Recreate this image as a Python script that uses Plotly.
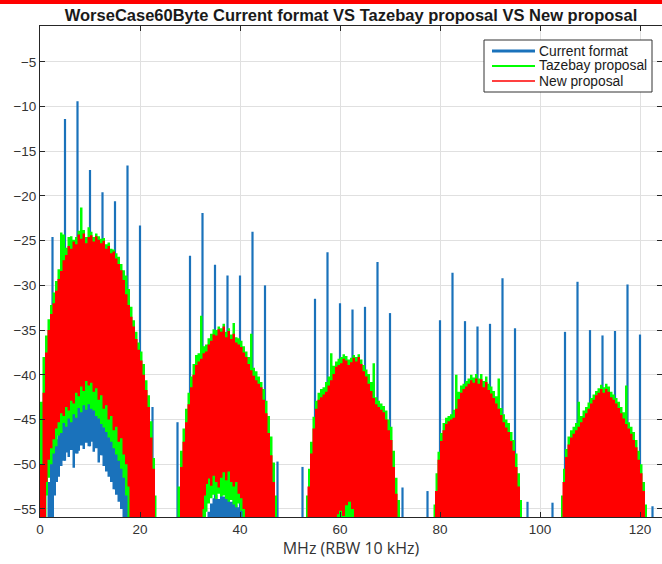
import plotly.graph_objects as go

FLOOR = -58.0

# ---- blue spikes (current format): position, peak and the level where the line returns to
spike_x = [2.5, 5, 7.5, 10, 12.5, 15, 17.5, 20, 22.5,
           27.5, 30, 32.5, 35, 37.5, 40, 42.5, 45, 47.5,
           52.5, 55, 57.5, 60, 62.5, 65, 67.5, 70, 72.5,
           77.5, 80, 82.5, 85, 87.5, 90, 92.5, 95, 97.5,
           102.5, 105, 107.5, 110, 112.5, 115, 117.5, 120, 122.5]
spike_top = [-24.6, -11.4, -9.4, -17.1, -19.6, -20.6, -16.6, -23.3, -43.6,
             -45.3, -26.7, -21.9, -27.7, -28.9, -28.9, -24.0, -30.0, -49.7,
             -50.3, -31.5, -26.3, -32.0, -32.7, -32.4, -27.4, -33.1, -52.6,
             -53.0, -33.9, -28.6, -34.0, -34.6, -34.3, -29.2, -34.8, -54.2,
             -54.3, -35.2, -29.6, -35.0, -35.6, -35.1, -29.9, -35.5, -54.7]
spike_low = [FLOOR, -49.6, -48.8, -48.0, -49.0, -52.8, FLOOR, FLOOR, FLOOR,
             FLOOR, FLOOR, FLOOR, FLOOR, FLOOR, FLOOR, FLOOR, FLOOR, FLOOR,
             FLOOR, FLOOR, FLOOR, FLOOR, FLOOR, FLOOR, FLOOR, FLOOR, FLOOR,
             FLOOR, FLOOR, FLOOR, FLOOR, FLOOR, FLOOR, FLOOR, FLOOR, FLOOR,
             FLOOR, FLOOR, FLOOR, FLOOR, FLOOR, FLOOR, FLOOR, FLOOR, FLOOR]

# ---- band 1 (0-23 MHz)
r1_x = [0, 0.5, 1, 1.5, 2, 2.5, 3, 3.5, 4, 4.5, 5, 5.5, 6, 6.5, 7, 7.5, 8, 8.5, 9, 9.5,
        10, 10.5, 11, 11.5, 12, 12.5, 13, 13.5, 14, 14.5, 15, 15.5, 16, 16.5, 17, 17.5,
        18, 18.5, 19, 19.5, 20, 20.5, 21, 21.5, 22, 22.5, 23]
r1_y = [-50, -42, -37.5, -35, -33.2, -32, -30.6, -29.3, -28.4, -27.2, -26.6, -25.6, -25.9,
        -25.1, -25.4, -24.3, -24.8, -24.2, -25.3, -24.6, -24.4, -25.1, -24.5, -24.9, -25.3,
        -25.0, -25.9, -25.6, -26.4, -26.2, -27.0, -27.6, -28.3, -29.4, -31.0, -32.2, -33.5,
        -34.6, -36.0, -37.2, -38.4, -40.0, -41.7, -43.6, -47.0, -50.5, FLOOR]
g1_x = [0, 0.5, 1, 1.5, 2, 2.5, 3, 3.5, 4, 4.5, 5, 5.5, 6, 6.5, 7, 7.5, 8, 8.5, 9, 9.5,
        10, 10.5, 11, 11.5, 12, 12.5, 13, 13.5, 14, 14.5, 15, 15.5, 16, 16.5, 17, 17.5,
        18, 18.5, 19, 19.5, 20, 20.5, 21, 21.5, 22, 22.5, 23, 23.3]
g1_y = [-43, -38, -35.6, -33.8, -32.2, -30.8, -29.5, -28.2, -24.1, -24.3, -25.8, -24.6,
        -24.5, -24.9, -24.6, -23.9, -21.3, -23.8, -24.6, -23.5, -24.0, -24.6, -24.2, -24.5,
        -24.8, -24.7, -25.4, -25.2, -25.9, -26.0, -26.4, -26.8, -27.6, -28.3, -28.9, -30.4,
        -32.4, -33.9, -35.2, -36.4, -37.4, -38.8, -40.6, -42.3, -45.2, -49.3, -53.5, FLOOR]
# inner edges of band 1: red -> green, green -> blue, blue -> white
r1in_x = [1.2, 1.5, 2, 2.5, 3, 3.5, 4, 4.5, 5, 5.5, 6, 6.5, 7, 7.5, 8, 8.5, 9, 9.5, 10,
          10.5, 11, 11.5, 12, 12.5, 13, 13.5, 14, 14.5, 15, 15.5, 16, 16.5, 17, 17.5, 17.9, 18.2]
r1in_y = [FLOOR, -52, -49.5, -48.2, -47.2, -46.0, -45.3, -44.3, -44.6, -43.6, -44.0, -42.9,
          -43.2, -42.0, -42.4, -41.3, -41.8, -40.7, -41.2, -40.9, -41.9, -41.5, -42.8, -42.3,
          -43.8, -43.4, -45.0, -44.6, -46.2, -45.8, -47.5, -47.1, -48.9, -50.0, -52.5, FLOOR]
g1in_x = [1.3, 1.6, 2, 2.5, 3, 3.5, 4, 4.5, 5, 5.5, 6, 6.5, 7, 7.5, 8, 8.5, 9, 9.5, 10,
          10.5, 11, 11.5, 12, 12.5, 13, 13.5, 14, 14.5, 15, 15.5, 16, 16.5, 17, 17.5, 17.9]
g1in_y = [FLOOR, -53.5, -51.5, -50.0, -48.8, -48.0, -46.8, -46.5, -45.4, -45.8, -44.9,
          -45.3, -44.4, -44.8, -43.7, -44.2, -43.4, -43.9, -43.3, -43.8, -44.0, -44.6, -44.9,
          -45.5, -45.9, -46.4, -47.0, -47.5, -48.2, -48.9, -49.6, -50.5, -51.5, -53.5, FLOOR]
b1in_x = [2.8, 3.2, 3.6, 4, 4.5, 5, 5.5, 6, 6.5, 7, 7.5, 8, 8.5, 9, 9.5, 10, 10.5, 11, 11.5,
          12, 12.5, 13, 13.5, 14, 14.5, 15, 15.5, 16, 16.5, 16.8]
b1in_y = [FLOOR, -53.5, -52.0, -51.4, -50.2, -49.6, -48.7, -49.2, -48.4, -50.4, -48.8, -48.5,
          -47.9, -48.3, -47.6, -48.0, -47.5, -48.6, -48.2, -49.8, -49.0, -50.2, -50.8, -51.4,
          -52.0, -52.8, -53.4, -54.2, -55.0, FLOOR]

# ---- band 2 (27-47 MHz)
r2_x = [27.5, 28, 28.5, 29, 29.5, 30, 30.5, 31, 31.5, 32, 32.5, 33, 33.5, 34, 34.5, 35,
        35.5, 36, 36.5, 37, 37.5, 38, 38.5, 39, 39.5, 40, 40.5, 41, 41.5, 42, 42.5, 43,
        43.5, 44, 44.5, 45, 45.5, 46, 46.5, 47]
r2_y = [FLOOR, -50.3, -47.5, -45.3, -43.3, -41.4, -40.0, -38.9, -38.5, -38.2, -37.6, -37.4,
        -36.6, -36.2, -35.5, -35.6, -34.9, -35.2, -34.6, -35.8, -35.1, -36.0, -35.4, -36.4,
        -36.6, -36.9, -37.5, -38.0, -38.8, -39.5, -40.1, -40.6, -41.0, -41.4, -42.8, -44.3,
        -46.5, -49.0, -52.0, FLOOR]
g2_x = [27, 27.5, 28, 28.5, 29, 29.5, 30, 30.5, 31, 31.5, 32, 32.5, 33, 33.5, 34, 34.5, 35,
        35.5, 36, 36.5, 37, 37.5, 38, 38.5, 39, 39.5, 40, 40.5, 41, 41.5, 42, 42.5, 43,
        43.5, 44, 44.5, 45, 45.5, 46, 46.5, 47, 47.4]
g2_y = [FLOOR, -52.5, -48.5, -46.0, -43.8, -42.0, -40.2, -38.8, -37.8, -37.6, -33.4, -36.8,
        -36.6, -35.9, -35.4, -34.9, -35.0, -34.6, -34.8, -34.3, -35.2, -34.8, -35.5, -34.2,
        -35.8, -35.9, -36.2, -36.8, -37.4, -38.0, -35.4, -39.2, -39.6, -40.2, -40.8, -41.6,
        -42.9, -44.6, -46.9, -49.8, -53.5, FLOOR]
r2in_x = [32.5, 32.8, 33.2, 33.6, 34, 34.5, 35, 35.5, 36, 36.5, 37, 37.5, 38, 38.5, 39,
          39.5, 40, 40.5, 41, 41.4]
r2in_y = [FLOOR, -55.0, -53.5, -52.2, -51.6, -52.4, -51.3, -52.0, -52.6, -51.5, -50.9,
          -51.8, -50.8, -52.0, -52.5, -52.0, -53.3, -53.8, -55.0, FLOOR]
b2top_x = [33.2, 33.5, 34, 34.5, 35, 35.5, 36, 36.5, 37, 37.5, 38, 38.5, 39, 39.5, 40,
           40.5, 41]
b2top_y = [FLOOR, -55.3, -54.4, -53.8, -53.4, -53.9, -53.3, -53.6, -53.5, -53.9, -54.2,
           -54.0, -54.5, -54.8, -54.4, -55.2, FLOOR]

# ---- band 3 (53-72 MHz)
r3_x = [53, 53.5, 54, 54.5, 55, 55.5, 56, 56.5, 57, 57.5, 58, 58.5, 59, 59.5, 60, 60.5, 61,
        61.5, 62, 62.5, 63, 63.5, 64, 64.5, 65, 65.5, 66, 66.5, 67, 67.5, 68, 68.5, 69,
        69.5, 70, 70.5, 71, 71.5]
r3_y = [FLOOR, -52.5, -48.8, -46.0, -43.8, -42.8, -42.5, -42.2, -41.9, -41.2, -40.6, -39.9,
        -39.1, -38.9, -38.7, -38.2, -38.4, -38.9, -38.6, -38.1, -38.5, -38.0, -38.8, -39.6,
        -40.2, -41.0, -41.8, -42.6, -43.3, -43.6, -43.9, -44.2, -45.0, -46.2, -47.3, -50.3,
        -53.3, FLOOR]
g3_x = [52.8, 53.2, 53.6, 54, 54.5, 55, 55.5, 56, 56.5, 57, 57.5, 58, 58.5, 59, 59.5, 60,
        60.5, 61, 61.5, 62, 62.5, 63, 63.5, 64, 64.5, 65, 65.5, 66, 66.5, 67, 67.5, 68,
        68.5, 69, 69.5, 70, 70.5, 71, 71.5, 72]
g3_y = [FLOOR, -53.5, -50.5, -47.5, -44.7, -42.9, -42.0, -41.6, -41.4, -40.8, -40.2, -37.6,
        -39.0, -38.5, -38.2, -38.0, -37.7, -37.9, -38.3, -38.1, -37.8, -38.0, -37.7, -38.3,
        -38.9, -39.4, -39.9, -40.8, -38.7, -42.5, -42.9, -43.2, -43.5, -44.0, -45.0, -45.8,
        -48.5, -51.5, -54.0, FLOOR]
r3in_x = [59.4, 59.8, 60.4, 61, 61.6, 62.2, 62.8, 63.3]
r3in_y = [FLOOR, -55.6, -55.2, -55.8, -54.6, -54.2, -55.0, FLOOR]

# ---- band 4 (78-96 MHz)
r4_x = [78.5, 79, 79.5, 80, 80.5, 81, 81.5, 82, 82.5, 83, 83.5, 84, 84.5, 85, 85.5, 86,
        86.5, 87, 87.5, 88, 88.5, 89, 89.5, 90, 90.5, 91, 91.5, 92, 92.5, 93, 93.5, 94,
        94.5, 95, 95.5, 96]
r4_y = [FLOOR, -53.0, -49.5, -47.4, -46.2, -45.5, -45.2, -45.0, -44.8, -43.8, -42.7, -42.0,
        -41.6, -41.3, -41.0, -40.6, -40.9, -40.4, -41.0, -40.5, -41.4, -40.8, -41.7, -42.1,
        -42.6, -43.2, -43.8, -44.5, -45.3, -45.9, -46.4, -47.4, -48.5, -50.3, -52.5, FLOOR]
g4_x = [78.3, 78.7, 79.1, 79.5, 80, 80.5, 81, 81.5, 82, 82.5, 83, 83.5, 84, 84.5, 85, 85.5,
        86, 86.5, 87, 87.5, 88, 88.5, 89, 89.5, 90, 90.5, 91, 91.5, 92, 92.5, 93, 93.5, 94,
        94.5, 95, 95.5, 96, 96.4]
g4_y = [FLOOR, -54.5, -51.0, -48.6, -46.5, -45.4, -44.8, -44.6, -44.4, -43.9, -40.0, -41.9,
        -41.2, -41.0, -40.7, -40.4, -40.0, -40.3, -39.9, -40.4, -39.9, -40.7, -40.2, -41.0,
        -41.3, -41.8, -42.4, -40.4, -43.7, -44.4, -45.0, -45.4, -46.4, -47.3, -48.8, -51.0,
        -54.0, FLOOR]

# ---- band 5 (104-121 MHz)
r5_x = [104, 104.5, 105, 105.5, 106, 106.5, 107, 107.5, 108, 108.5, 109, 109.5, 110, 110.5,
        111, 111.5, 112, 112.5, 113, 113.5, 114, 114.5, 115, 115.5, 116, 116.5, 117, 117.5,
        118, 118.5, 119, 119.5, 120, 120.5, 121]
r5_y = [FLOOR, -52.0, -49.2, -47.8, -47.0, -46.6, -46.2, -45.8, -45.3, -44.8, -44.3, -43.8,
        -43.2, -42.8, -42.3, -42.0, -41.6, -42.0, -41.6, -41.9, -42.5, -42.8, -43.2, -43.7,
        -44.3, -44.9, -45.5, -46.0, -46.6, -47.3, -48.1, -49.5, -51.0, -53.0, FLOOR]
g5_x = [103.8, 104.2, 104.6, 105, 105.5, 106, 106.5, 107, 107.5, 108, 108.5, 109, 109.5,
        110, 110.5, 111, 111.5, 112, 112.5, 113, 113.5, 114, 114.5, 115, 115.5, 116, 116.5,
        117, 117.5, 118, 118.5, 119, 119.5, 120, 120.5, 121, 121.4]
g5_y = [FLOOR, -53.5, -50.5, -48.3, -46.9, -46.2, -45.8, -45.4, -43.0, -44.6, -44.0, -43.6,
        -43.1, -42.6, -42.2, -41.8, -41.5, -41.1, -41.4, -41.0, -41.3, -41.9, -42.2, -42.6,
        -43.0, -43.6, -44.2, -41.2, -45.3, -45.8, -46.4, -47.3, -48.5, -50.0, -52.0, -54.5,
        FLOOR]

series_names = ["Current format", "Tazebay proposal", "New proposal"]

BLUE = "#1a72bb"
GREEN = "#00ff00"
RED = "#ff0000"


def band(top_x, top_y, hole_x=None, hole_y=None):
    # closed outline: upper edge left->right, lower edge back right->left
    bx = [top_x[0]] + (hole_x or []) + [top_x[-1]]
    by = [FLOOR] + (hole_y or []) + [FLOOR]
    return top_x + bx[::-1], top_y + by[::-1]


def area(xy, color):
    return go.Scatter(x=xy[0], y=xy[1], mode="lines", fill="toself", fillcolor=color,
                      line=dict(width=0, shape="hv"), showlegend=False, hoverinfo="skip")


fig = go.Figure()

# blue spikes
sx, sy = [], []
for x, t, b in zip(spike_x, spike_top, spike_low):
    sx += [x, x, None]
    sy += [t, b, None]
fig.add_trace(go.Scatter(x=sx, y=sy, mode="lines", line=dict(color=BLUE, width=2.2),
                         showlegend=False, hoverinfo="skip"))

# blue humps under the others
fig.add_trace(area((r1in_x + b1in_x[::-1], r1in_y + b1in_y[::-1]), BLUE))
fig.add_trace(area(band(b2top_x, b2top_y), BLUE))

# green
fig.add_trace(area(band(g1_x, g1_y, g1in_x, g1in_y), GREEN))
fig.add_trace(area(band(g2_x, g2_y, b2top_x, b2top_y), GREEN))
fig.add_trace(area(band(g3_x, g3_y), GREEN))
fig.add_trace(area(band(g4_x, g4_y), GREEN))
fig.add_trace(area(band(g5_x, g5_y), GREEN))

# red
fig.add_trace(area(band(r1_x, r1_y, r1in_x, r1in_y), RED))
fig.add_trace(area(band(r2_x, r2_y, r2in_x, r2in_y), RED))
fig.add_trace(area(band(r3_x, r3_y, r3in_x, r3in_y), RED))
fig.add_trace(area(band(r4_x, r4_y), RED))
fig.add_trace(area(band(r5_x, r5_y), RED))

# MATLAB-like compact legend box (paper coords)
W, H, L, B = 622, 491, 40, 47


def px(x):
    return (x - L) / W


def py(y):
    return (564 - B - y) / H


shapes = [
    dict(type="rect", xref="paper", yref="paper", x0=-0.1, x1=1.05,
         y0=py(4), y1=1.08, fillcolor=RED, line=dict(width=0), layer="above"),
    dict(type="rect", xref="paper", yref="paper", x0=px(484), x1=px(652),
         y0=py(92), y1=py(40), fillcolor="white", line=dict(color="#333333", width=1),
         layer="above"),
]
annotations = []
for i, (name, col, w) in enumerate(zip(series_names, [BLUE, GREEN, RED], [3, 2, 1.5])):
    yy = py(51 + 15 * i)
    shapes.append(dict(type="line", xref="paper", yref="paper", x0=px(492), x1=px(535),
                       y0=yy, y1=yy, line=dict(color=col, width=w), layer="above"))
    annotations.append(dict(text=name, xref="paper", yref="paper", x=px(537), y=yy,
                            xanchor="left", yanchor="middle", showarrow=False,
                            font=dict(family="Liberation Sans", size=13.8, color="#1a1a1a")))

axis_common = dict(showline=True, linecolor="#262626", linewidth=1, mirror="ticks",
                   ticks="inside", ticklen=5, tickcolor="#262626", automargin=False,
                   showgrid=True, gridcolor="#e0e0e0", gridwidth=1, zeroline=False,
                   tickfont=dict(family="Liberation Sans", size=13.5, color="#333333"))

fig.update_layout(
    width=662, height=564,
    margin=dict(l=L, r=0, t=26, b=B),
    plot_bgcolor="white", paper_bgcolor="white",
    showlegend=False,
    title=dict(text="<b>WorseCase60Byte Current format VS Tazebay proposal VS New proposal</b>",
               x=0.5, xref="paper", y=1 - 15 / 564, yref="container", yanchor="middle",
               font=dict(family="Liberation Sans", size=16.5, color="#1a1a1a")),
    xaxis=dict(range=[0, 124.4], tickvals=[0, 20, 40, 60, 80, 100, 120],
               title=dict(text="MHz (RBW 10 kHz)", standoff=6,
                          font=dict(family="Open Sans", size=16, color="#333333")),
               **axis_common),
    yaxis=dict(range=[-55.9, -1.0], tickvals=[-55, -50, -45, -40, -35, -30, -25, -20, -15, -10, -5],
               **axis_common),
    shapes=shapes,
    annotations=annotations,
)

# the page's default body margin would shift the figure by 8px
fig.write_html("out.html", config={"displayModeBar": False},
               post_script="document.body.style.margin='0';")
